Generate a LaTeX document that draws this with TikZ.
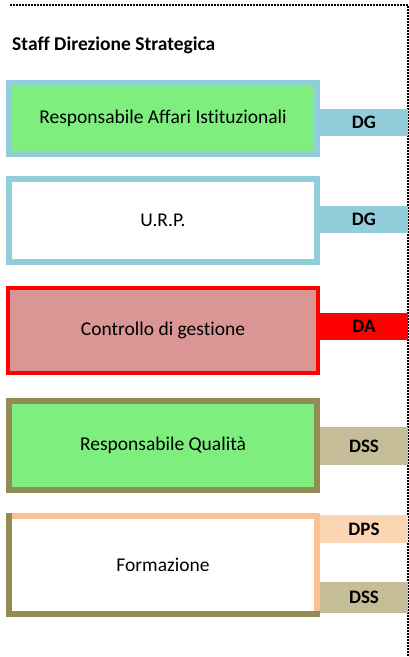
\documentclass[tikz,border=0pt]{standalone}
\usepackage{fontspec}
\setmainfont{Carlito}[Ligatures=NoCommon]
\usetikzlibrary{positioning}

\definecolor{verde}{RGB}{126,239,126}
\definecolor{azzurro}{RGB}{146,205,220}
\definecolor{rosa}{RGB}{217,150,148}
\definecolor{oliva}{RGB}{148,138,84}
\definecolor{sabbia}{RGB}{196,189,151}
\definecolor{pesca}{RGB}{250,192,144}
\definecolor{pescachiaro}{RGB}{252,213,181}

\begin{document}
\begin{tikzpicture}[x=1pt,y=-1pt,
    ufficio/.style={rectangle, minimum width=308pt, line width=6pt,
        font=\fontsize{19.5}{23}\selectfont},
    sigla/.style={rectangle, minimum width=88pt, inner sep=0pt, outer sep=0pt,
        font=\fontsize{19}{23}\selectfont\bfseries}
]
\useasboundingbox (0,0) rectangle (409,657);

% Cornice tratteggiata
\draw[line width=1.2pt, dash pattern=on 2pt off 1pt] (10,5) -- (408,5) -- (408,657);

% Titolo
\node[anchor=west, inner sep=0pt, font=\fontsize{19.5}{23}\selectfont\bfseries] (titolo) at (12,45) {Staff Direzione Strategica};

% Uffici
\node[ufficio, draw=azzurro, fill=verde, minimum height=71pt] (affari) at (163,118.5) {Responsabile Affari Istituzionali};
\node[ufficio, draw=azzurro, fill=white, minimum height=83pt] (urp) at (163,220.5) {U.R.P.};
\node[ufficio, draw=red, fill=rosa, line width=4pt, minimum width=310pt, minimum height=85pt] (controllo) at (163,330.5) {Controllo di gestione};
\node[ufficio, draw=oliva, fill=verde, minimum height=89pt] (qualita) at (163,445.5) {Responsabile Qualità};
\node[ufficio, outer sep=0pt, minimum height=98pt] (formazione) at (163,565) {Formazione};

% Bordi di Formazione
\draw[pesca, line width=6pt] (formazione.north west) -- (formazione.north east) -- (formazione.south east);
\draw[oliva, line width=6pt] ([yshift=3pt]formazione.north west) -- (formazione.south west) -- ([xshift=3pt]formazione.south east);

% Direzioni
\node[sigla, fill=azzurro, minimum height=27pt] (dg1) at (364,122) {DG};
\node[sigla, fill=azzurro, minimum height=27pt] (dg2) at (364,219.5) {DG};
\node[sigla, fill=red, minimum height=27pt] (da) at (364,326.5) {DA};
\node[sigla, fill=sabbia, minimum height=38pt] (dss1) at (364,446) {DSS};
\node[sigla, fill=pescachiaro, minimum height=28pt] (dps) at (364,529) {DPS};
\node[sigla, fill=sabbia, minimum height=31pt] (dss2) at (364,597.5) {DSS};

\end{tikzpicture}
\end{document}
